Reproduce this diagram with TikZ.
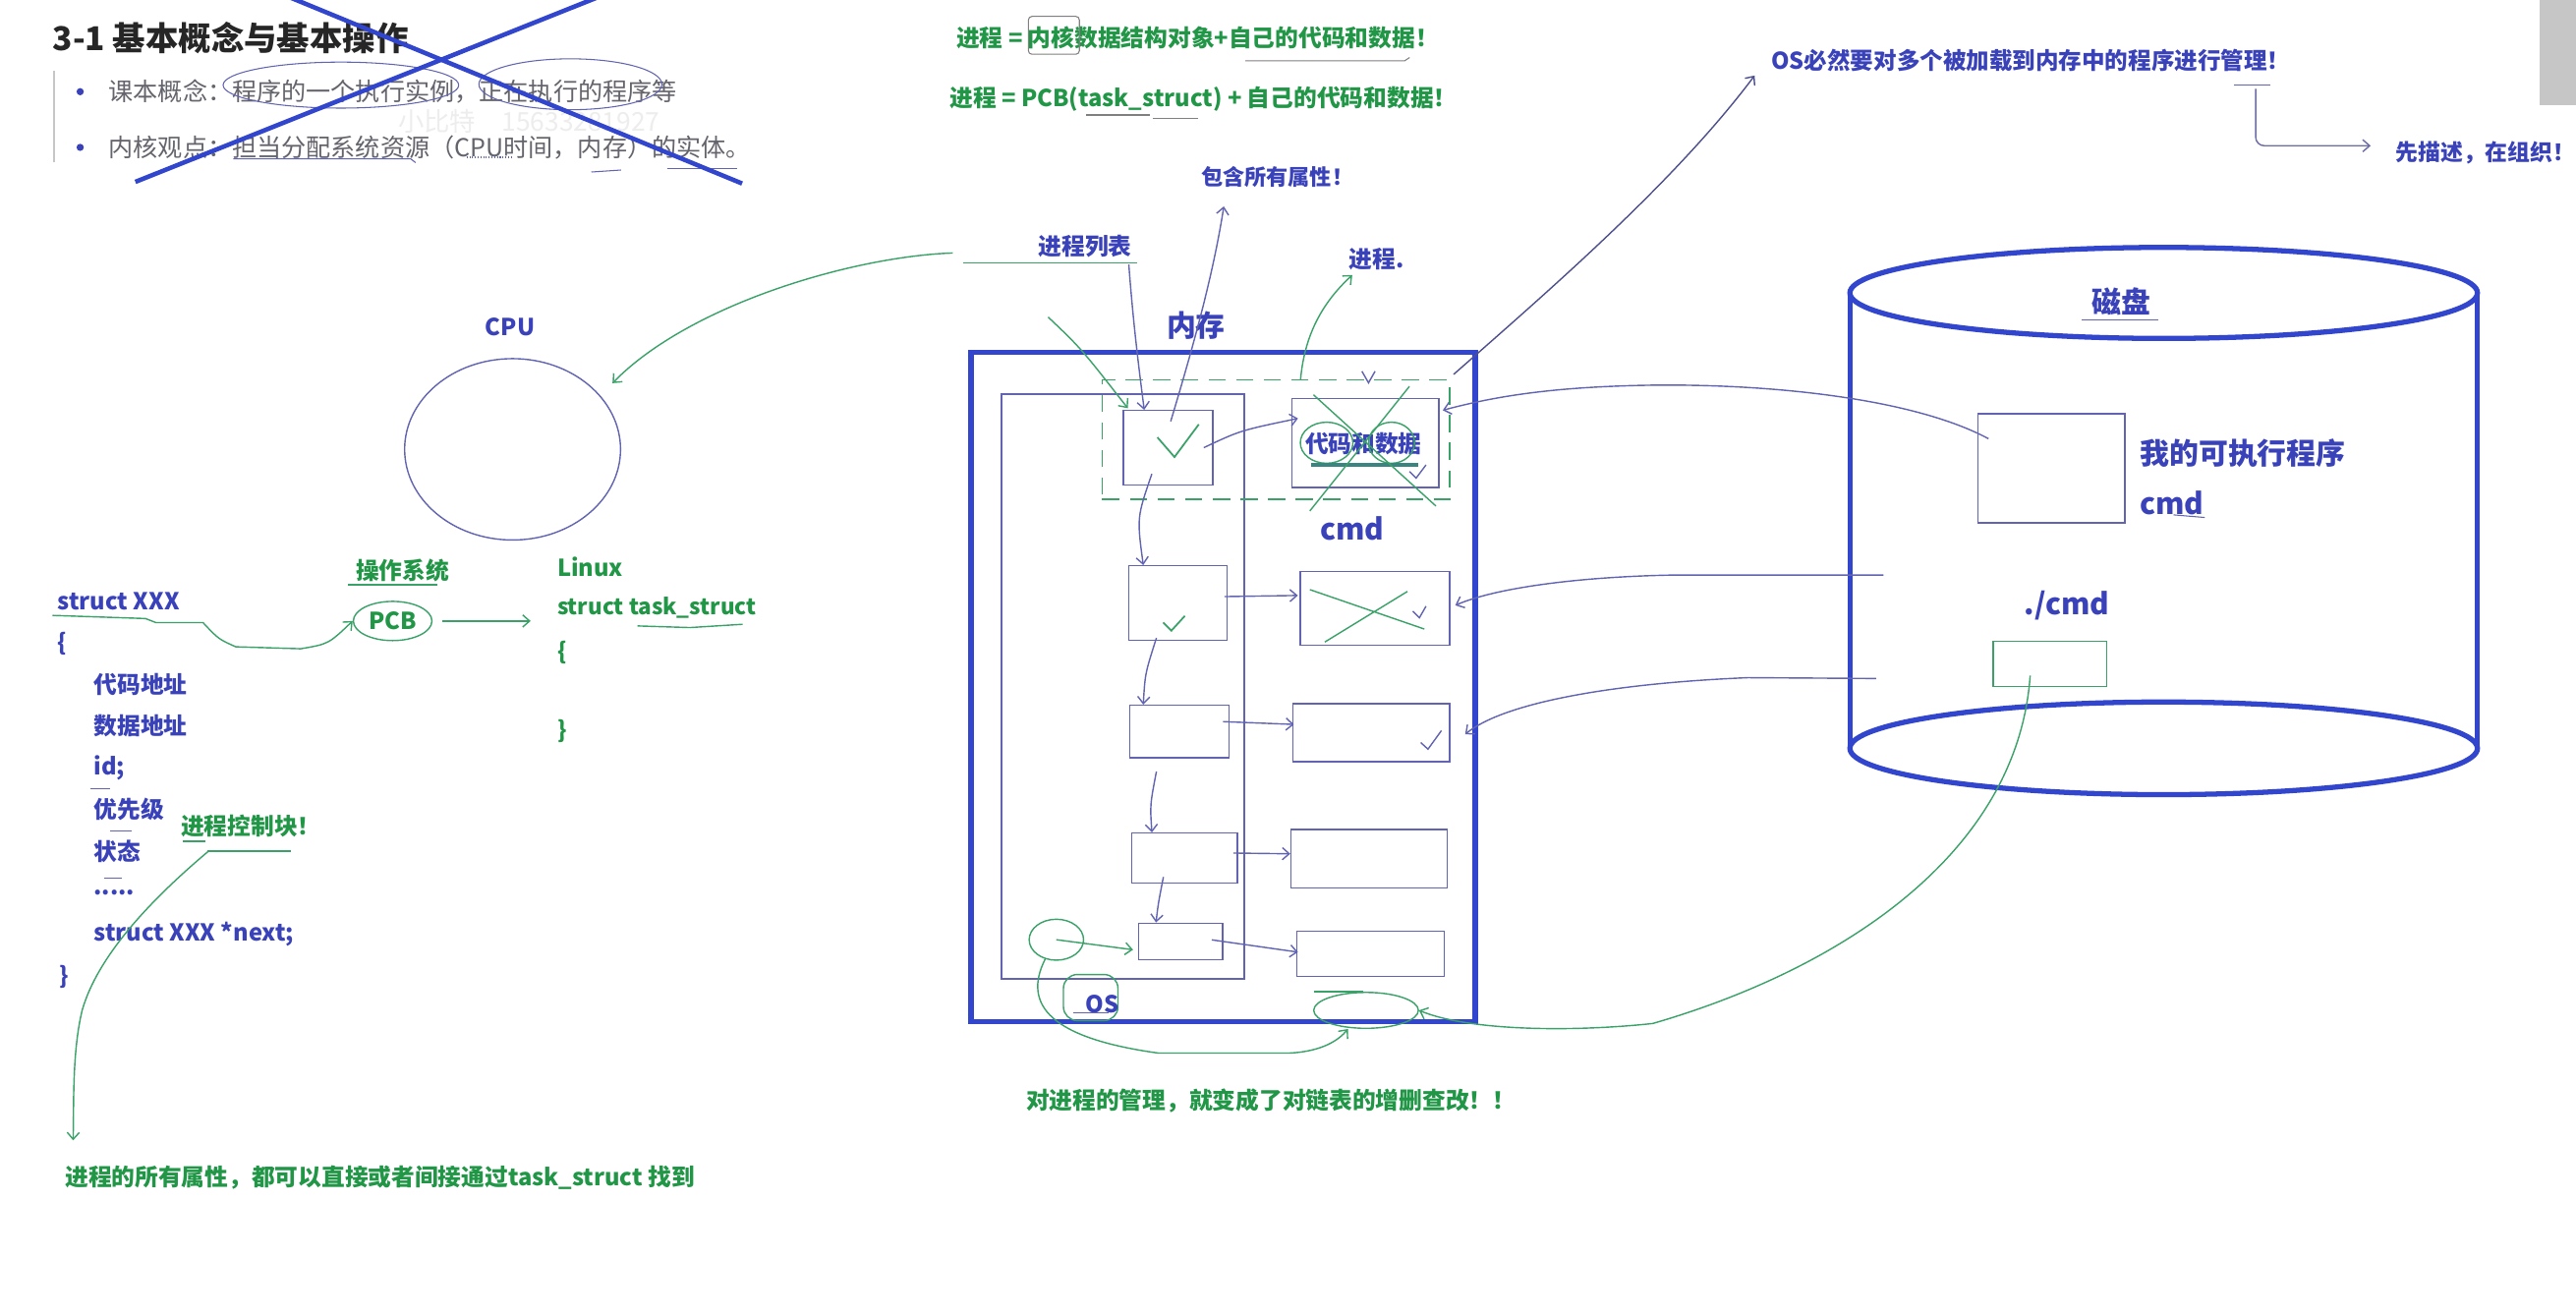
\documentclass[tikz,border=0pt]{standalone}
\usepackage{fontspec}
\setmainfont{Noto Sans CJK SC}
\usetikzlibrary{arrows.meta, positioning, fit, calc, shapes.geometric}

\definecolor{inkblue}{RGB}{58,66,186}
\definecolor{penblue}{RGB}{50,70,205}
\definecolor{thinblue}{RGB}{98,100,178}
\definecolor{inkgreen}{RGB}{32,150,70}
\definecolor{pengreen}{RGB}{58,162,105}
\definecolor{inkgray}{RGB}{100,100,108}
\newcommand\fivedots{.....}

\begin{document}
\begin{tikzpicture}[
  x=0.3343mm, y=-0.3343mm,
  txt/.style={inner sep=0pt, font=\bfseries\fontsize{13.5}{15}\selectfont},
  bluetxt/.style={txt, text=inkblue},
  greentxt/.style={txt, text=inkgreen},
  bigtxt/.style={bluetxt, font=\bfseries\fontsize{17}{19}\selectfont},
  graytxt/.style={inner sep=0pt, text=inkgray, font=\fontsize{14.3}{16}\selectfont},
  box/.style={draw=thinblue, line width=0.8pt, inner sep=0pt},
  thickblue/.style={draw=penblue, line width=3pt},
  gpen/.style={draw=pengreen, line width=0.8pt},
  bpen/.style={draw=thinblue, line width=0.8pt},
  chk/.style={draw=pengreen, line width=1pt},
  arrow/.style={-{Straight Barb[length=4pt,width=7pt]}, line width=0.8pt},
  garrow/.style={arrow, pengreen},
  barrow/.style={arrow, thinblue}
]
\useasboundingbox (0,0) rectangle (1568,800);
\fill[white] (0,0) rectangle (1568,800);

% slide heading
\node[txt, anchor=west, text=black!85, font=\bfseries\fontsize{19}{21}\selectfont] (title) at (32,23) {3-1 基本概念与基本操作};
\draw[gray!45, line width=1pt] (33,43) -- (33,99);
\fill[inkblue] (48.8,55.8) circle [radius=2.2];
\fill[inkblue] (48.8,89.7) circle [radius=2.2];
\node[graytxt, anchor=west] (def1) at (66,55.8) {课本概念：程序的一个执行实例，正在执行的程序等};
\node[graytxt, anchor=west] (def2) at (66,89.7) {内核观点：担当分配系统资源（CPU时间，内存）的实体。};
\node[inner sep=0pt, text=gray!14, font=\fontsize{15}{17}\selectfont] (wm) at (322,74) {小比特\quad 15633281927};
\draw[bpen, line width=0.6pt] (207.5,51.8) ellipse [x radius=71.7, y radius=14];
\draw[bpen, line width=0.6pt] (347.2,51.3) ellipse [x radius=55.7, y radius=15.5];
\draw[bpen, line width=0.6pt] (142,96.7) -- (250,96.7) -- (253,99);
\draw[bpen, line width=0.6pt, densely dotted] (284,95.7) -- (311,95.7);
\draw[bpen, line width=0.6pt] (360,104.7) -- (378,103.5);
\draw[bpen, line width=0.6pt] (406,102.7) -- (448.6,102.7);
\draw[thickblue, line width=2.6pt] (82.4,110.7) -- (364.7,-2);
\draw[thickblue, line width=2.6pt] (175.5,-2) -- (451.7,111.7);

% formulas on top
\node[greentxt, anchor=west] (eq1) at (582,23) {进程 = 内核数据结构对象+自己的代码和数据！};
\node[greentxt, anchor=west] (eq2) at (578,60) {进程 = PCB(task\_struct) + 自己的代码和数据！};
\draw[gray, line width=0.6pt, rounded corners=2pt] (626,10) rectangle (657,33);
\draw[gray, line width=0.6pt] (758,37) -- (855,37) -- (858,35);
\draw[gray, line width=0.6pt] (661,70) -- (700,70) (702,72) -- (729,72);
\node[bluetxt, font=\bfseries\fontsize{12.6}{14}\selectfont] (attr) at (777.5,108) {包含所有属性！};
\node[bluetxt, anchor=west, font=\bfseries\fontsize{13.4}{15}\selectfont] (os) at (1078,37) {OS必然要对多个被加载到内存中的程序进行管理！};
\draw[thinblue, line width=0.6pt] (1360,51.5) -- (1382,51.5);
\node[bluetxt, anchor=west, font=\bfseries\fontsize{13}{15}\selectfont] (desc) at (1458,92.7) {先描述，在组织！};
\fill[gray!45] (1546,0) rectangle (1568,64);

% CPU and the PCB
\node[bluetxt] (cpulbl) at (310.5,199) {CPU};
\node[ellipse, draw=thinblue, line width=0.8pt, minimum width=125pt, minimum height=105pt, inner sep=0pt] (cpu) at (312,273.5) {};
\node[greentxt] (ossys) at (245,347) {操作系统};
\draw[gpen] (212,356) -- (266,356);
\node[greentxt, anchor=west] (linux) at (339,345) {Linux};
\node[greentxt, anchor=west, font=\bfseries\fontsize{12.8}{15}\selectfont] (tsk) at (339,370) {struct task\_struct};
\draw[gpen] (388,381) -- (420,382) -- (452,380);
\node[greentxt, anchor=west] (tbo) at (339,397) {\{};
\node[greentxt, anchor=west] (tbc) at (339,445) {\}};
\node[greentxt, ellipse, draw=pengreen, line width=0.8pt, minimum width=45.5pt, minimum height=22.7pt] (pcb) at (239,378) {PCB};

\node[bluetxt, anchor=west] (sx) at (35,366) {struct XXX};
\node[bluetxt, anchor=west] (sbo) at (35,391.8) {\{};
\foreach \t [count=\i] in {代码地址, 数据地址, id;, 优先级, 状态, \fivedots, struct XXX *next;}
  \node[bluetxt, anchor=west] (f\i) at (57,391+25.4*\i) {\t};
\node[bluetxt, anchor=west] (sbc) at (36,594.8) {\}};
\draw[thinblue, line width=0.6pt] (55,479.8) -- (67,479.8) (67,506) -- (80,506) (63.5,534.6) -- (74,534.6);
\node[greentxt, anchor=west] (ctl) at (110,503) {进程控制块！};
\draw[gpen] (111.5,512) -- (125,512) (126,518) -- (177,518);
\node[greentxt, anchor=west] (allattr) at (39.5,716.6) {进程的所有属性，都可以直接或者间接通过task\_struct 找到};

\draw[garrow] ($(sx.south west)+(-3,3)$) -- (88.5,376.5) -- (95,379) -- (123.6,379) .. controls (133,389) .. (143.5,393.7) -- (183,394.9) .. controls (200,392) .. (pcb.west);
\draw[garrow] ($(pcb.east)+(6,0)$) -- ($(pcb.east -| tsk.west)+(-16,0)$);
\draw[garrow] ($(ctl.south west)+(17,8)$) .. controls (95,545) and (60,580) .. (50,615) .. controls (44,640) and (45,670) .. ($(allattr.north west)+(5,-15)$);

% memory
\node[bigtxt] (memlbl) at (728,198.4) {内存};
\node[draw=penblue, line width=3pt, inner sep=0pt, fit={(591,214.4) (898,622)}] (mem) {};
\node[box, fit={(609.6,240) (757.4,595.8)}] (pcbcol) {};
\node[draw=pengreen, line width=0.8pt, dash pattern=on 10pt off 6pt, inner sep=0pt, fit={(670.9,231.3) (882.4,304)}] (grp) {};
\node[box, fit={(683.9,249.9) (738.3,295.1)}] (p1) {};
\node[box, fit={(686.9,344.4) (746.9,389.9)}] (p2) {};
\node[box, fit={(687.8,429.3) (748,461.2)}] (p3) {};
\node[box, fit={(689,507.1) (753.3,537.4)}] (p4) {};
\node[box, fit={(693.1,561.9) (744.2,584.3)}] (p5) {};
\node[box, fit={(786.5,242.7) (875.8,296.7)}] (c1) {};
\node[box, fit={(791.4,348) (882.4,392.9)}] (c2) {};
\node[box, fit={(787,428.3) (882.4,463.6)}] (c3) {};
\node[box, fit={(785.8,505) (880.8,540.4)}] (c4) {};
\node[box, fit={(789.5,566.9) (879,594.2)}] (c5) {};
\node[bluetxt] (cdata) at (830,270.2) {代码和数据};
\draw[gpen] (807.5,269.5) ellipse [x radius=16, y radius=12.5];
\draw[gpen] (847,269.5) ellipse [x radius=14, y radius=12.5];
\draw[line width=2pt, pengreen!70!inkblue] (798,283) -- (863,283);
\draw[gpen] (799.5,240.3) -- (874,308) (857.9,235.2) -- (797.3,311);
\draw[gpen] (797.3,358.9) -- (867,382.9) (856.7,360) -- (806.4,390.8);
\draw[chk] (704.5,266.2) -- (714.9,278.2) -- (729.7,258.3);
\draw[chk] (708,378.9) -- (713,383.9) -- (721.2,374.9);
\draw[bpen] (858,287) -- (862,291) -- (868,283);
\draw[bpen] (860,372) -- (864,376) -- (868,369);
\draw[bpen] (864.8,452) -- (869.2,456) -- (877.4,444.7);
\draw[bpen] (829,226) -- (833,233) -- (837,226);
\node[bigtxt] (cmdm) at (823,322) {cmd};
\node[bluetxt] (proc) at (838,157.5) {进程.};
\node[bluetxt] (listlbl) at (660.5,150) {进程列表};
\draw[gpen] (586,160) -- (692,160);
\node[ellipse, draw=pengreen, line width=0.8pt, minimum width=31.5pt, minimum height=23.7pt, inner sep=0pt] (osc) at (643,572) {};
\node[draw=pengreen, line width=0.8pt, rounded corners=8pt, inner sep=0pt, fit={(647.3,593.2) (680.5,621.2)}] (osring) {};
\node[bluetxt] (oslbl) at (670.8,611) {OS};
\draw[thinblue, line width=0.6pt] (653,616.5) -- (674.6,616.5);
\node[ellipse, draw=pengreen, line width=0.8pt, minimum width=60.6pt, minimum height=20.8pt, inner sep=0pt] (mgm) at (831.5,615) {};
\draw[gpen] (800,603.6) -- (830,603.6);
\node[greentxt, anchor=west] (mgmt) at (624.4,670) {对进程的管理，就变成了对链表的增删查改！！};

% disk
\draw[thickblue] (1126,178.3) -- (1126,455.5) (1508,178.3) -- (1508,455.5);
\draw[thickblue] (1317,178.3) ellipse [x radius=191, y radius=27.7];
\draw[thickblue] (1317,455.5) ellipse [x radius=191, y radius=28.2];
\node[bigtxt] (disklbl) at (1291.3,183.8) {磁盘};
\draw[thinblue, line width=0.6pt] (1267,195) -- (1314,195);
\node[box, fit={(1203.8,251.8) (1293.5,318.3)}] (exe) {};
\node[bigtxt, anchor=west] (exelbl) at (1302.4,275.7) {我的可执行程序};
\node[bigtxt, anchor=west] (cmdd) at (1302.4,306.3) {cmd};
\draw[thinblue, line width=0.6pt] (1323,313.4) -- (1342,315);
\node[bigtxt] (runlbl) at (1258.2,368.7) {./cmd};
\node[box, draw=pengreen, fit={(1213.2,390.3) (1282.3,417.8)}] (gbox) {};
\coordinate (dk2) at (1146.5,350);
\coordinate (dk3) at (1142,413);

% connectors
\draw[garrow] ($(listlbl.west)+(-52,4)$) .. controls (520,156) and (420,185) .. ($(cpu.40)+(14,-1)$);
\draw[barrow] ($(listlbl.south east)+(-2,4)$) .. controls (690,200) and (694,230) .. ($(p1.north west)+(13,0)$);
\draw[garrow] (638,193) .. controls (658,212) .. ($(p1.north west)+(3,-1)$);
\draw[barrow] ($(p1.north)+(1.5,7)$) .. controls (725,215) and (738,170) .. ($(attr.south west)+(14,11)$);
\draw[garrow] ($(grp.north)+(15,0)$) .. controls (794,205) and (804,185) .. ($(proc.south west)+(2,3)$);
\draw[barrow] ($(p1.east)+(-6,0)$) .. controls (755,262) .. ($(c1.west)+(4,-15)$);
\draw[barrow] ($(p1.south)+(-10,-7)$) .. controls (692,315) .. ($(p2.north)+(-21,0)$);
\draw[barrow] ($(p2.east)+(-2,-4)$) -- ($(c2.west)+(-1,-8)$);
\draw[barrow] ($(p2.south)+(-13,-2)$) .. controls (697,410) .. ($(p3.north)+(-22,0)$);
\draw[barrow] ($(p3.east)+(-4,-6)$) -- ($(c3.west)+(1,-5)$);
\draw[barrow] ($(p3.south)+(-14,8)$) .. controls (700,490) .. ($(p4.north)+(-20,0)$);
\draw[barrow] ($(p4.east)+(-3,-3)$) -- ($(c4.west)+(0,-3)$);
\draw[barrow] ($(p4.south)+(-13,-4)$) .. controls (705,550) .. ($(p5.north)+(-15,0)$);
\draw[barrow] ($(p5.east)+(-7,-1)$) -- ($(c5.west)+(1,-1)$);
\draw[garrow] (osc.center) -- ($(p5.west)+(-3,5)$);
\draw[garrow] (osc.240) .. controls (622,612) and (640,632) .. (705,641) -- (785,641) .. controls (805,640) and (815,633) .. ($(mgm.south)+(-11,0)$);
\draw[garrow] ($(gbox.south)+(-12,-7)$) .. controls (1228,520) and (1120,590) .. (1006,623) .. controls (960,628) and (895,628) .. (mgm.east);
\draw[barrow] ($(exe.west)+(7,-18)$) .. controls (1160,240) and (1060,232) .. (985,235) .. controls (930,237) and (900,244) .. ($(c1.east)+(2,-20)$);
\draw[barrow] (dk2) -- (1020,350) .. controls (960,351) and (910,358) .. ($(c2.east)+(3,-2)$);
\draw[barrow] (dk3) -- (1064,412.5) .. controls (980,416) and (915,428) .. ($(c3.east)+(9,1)$);
\draw[arrow, thinblue!80!black] ($(grp.north east)+(2,-3)$) .. controls (945,175) and (1020,110) .. ($(os.west)+(-10,9)$);
\draw[arrow, thinblue!70!gray, rounded corners=5pt] ($(os.west)+(295,17)$) |- ($(desc.west)+(-15,-4)$);
\end{tikzpicture}
\end{document}
